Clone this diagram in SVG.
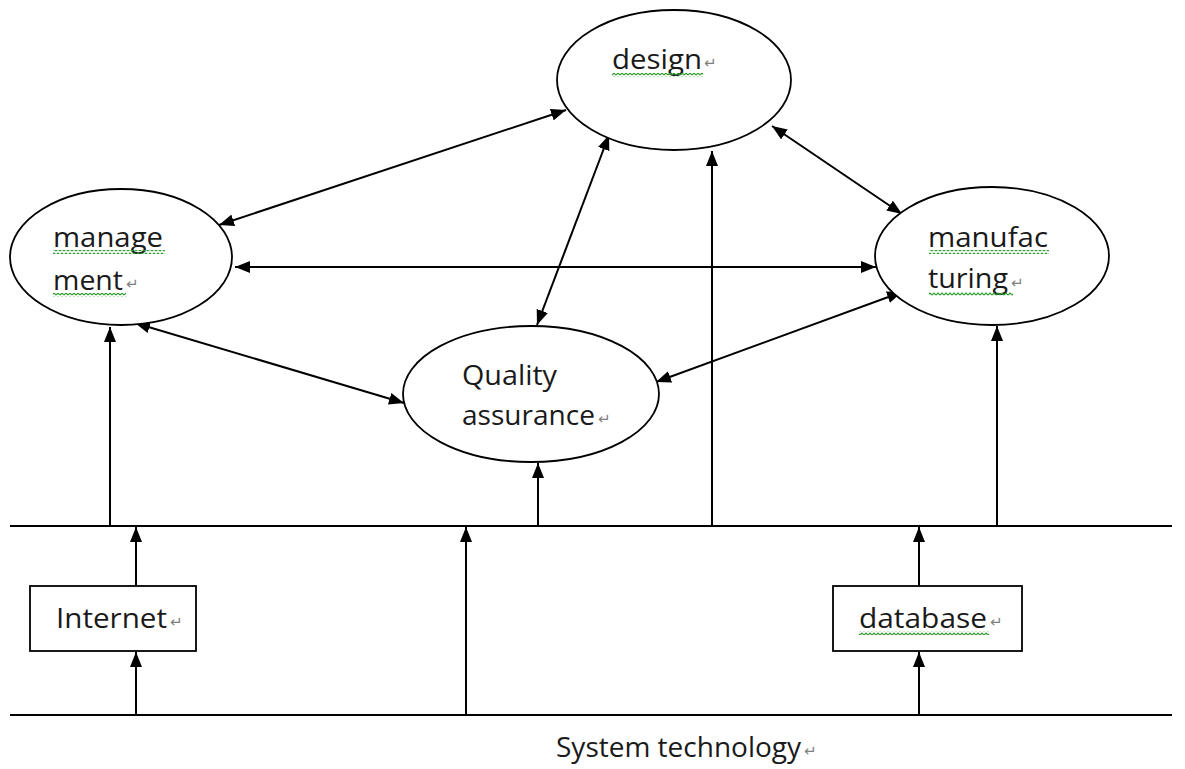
<svg xmlns="http://www.w3.org/2000/svg" width="1185" height="769" viewBox="0 0 1185 769">
  <style>
    .shape { fill: #ffffff; stroke: #000000; stroke-width: 1.8; }
    .rule { stroke: #000000; stroke-width: 1.8; fill: none; }
    .up { stroke: #000000; stroke-width: 2; fill: none; marker-end: url(#head); }
    .both { stroke: #000000; stroke-width: 2; fill: none; marker-start: url(#head); marker-end: url(#head); }
    .label { font-family: "Open Sans", "Liberation Sans", Arial, sans-serif; font-size: 28px; fill: #1a1a1a; }
    .mark { font-family: "DejaVu Sans", sans-serif; font-size: 15px; fill: #808080; }
    .squiggle { fill: url(#wave); }
  </style>
  <defs>
    <marker id="head" markerUnits="userSpaceOnUse" markerWidth="16" markerHeight="12" refX="15" refY="6" orient="auto-start-reverse">
      <path d="M0,0 L15,6 L0,12 z" fill="#000000"/>
    </marker>
    <pattern id="wave" patternUnits="userSpaceOnUse" width="4" height="4">
      <polyline points="0,3 2,1 4,3" fill="none" stroke="#2e9a2e" stroke-width="1.2"/>
    </pattern>
  </defs>

  <!-- ground rules -->
  <g id="rules">
    <line class="rule" x1="10" y1="526" x2="1172" y2="526"/>
    <line class="rule" x1="10" y1="715" x2="1172" y2="715"/>
  </g>

  <!-- connectors -->
  <g id="connectors">
    <!-- links between the four functions -->
    <line class="both" x1="566" y1="110" x2="219" y2="225"/>
    <line class="both" x1="609" y1="135" x2="537" y2="325"/>
    <line class="both" x1="772" y1="126" x2="902" y2="214"/>
    <line class="both" x1="235" y1="267" x2="876" y2="267"/>
    <line class="both" x1="135" y1="323" x2="404" y2="403"/>
    <line class="both" x1="656" y1="382" x2="902" y2="292"/>
    <!-- from the upper rule to the functions -->
    <line class="up" x1="110" y1="526" x2="110" y2="327"/>
    <line class="up" x1="538" y1="526" x2="538" y2="463"/>
    <line class="up" x1="712" y1="526" x2="712" y2="151"/>
    <line class="up" x1="997" y1="526" x2="997" y2="326"/>
    <!-- support layer -->
    <line class="up" x1="136" y1="586" x2="136" y2="527"/>
    <line class="up" x1="136" y1="715" x2="136" y2="652"/>
    <line class="up" x1="466" y1="715" x2="466" y2="527"/>
    <line class="up" x1="919" y1="586" x2="919" y2="527"/>
    <line class="up" x1="919" y1="715" x2="919" y2="652"/>
  </g>

  <g id="design">
    <ellipse class="shape" cx="674" cy="80" rx="117" ry="70"/>
    <text class="label" x="612" y="69" textLength="90" lengthAdjust="spacingAndGlyphs">design</text>
    <text class="mark" x="704" y="68">↵</text>
    <rect class="squiggle" x="612" y="73" width="91" height="4"/>
  </g>

  <g id="management">
    <ellipse class="shape" cx="121" cy="257" rx="111" ry="68"/>
    <text class="label" x="53" y="247" textLength="110" lengthAdjust="spacingAndGlyphs">manage</text>
    <text class="label" x="53" y="290" textLength="70" lengthAdjust="spacingAndGlyphs">ment</text>
    <text class="mark" x="126" y="289">↵</text>
    <rect class="squiggle" x="53" y="250" width="112" height="4"/>
    <rect class="squiggle" x="53" y="293" width="73" height="4"/>
  </g>

  <g id="manufacturing">
    <ellipse class="shape" cx="992" cy="256" rx="117" ry="69"/>
    <text class="label" x="928" y="247" textLength="120" lengthAdjust="spacingAndGlyphs">manufac</text>
    <text class="label" x="928" y="288" textLength="80" lengthAdjust="spacingAndGlyphs">turing</text>
    <text class="mark" x="1011" y="288">↵</text>
    <rect class="squiggle" x="929" y="250" width="120" height="4"/>
    <rect class="squiggle" x="929" y="292" width="84" height="4"/>
  </g>

  <g id="quality">
    <ellipse class="shape" cx="531" cy="394" rx="128" ry="68"/>
    <text class="label" x="462" y="385" textLength="95" lengthAdjust="spacingAndGlyphs">Quality</text>
    <text class="label" x="462" y="425" textLength="133" lengthAdjust="spacingAndGlyphs">assurance</text>
    <text class="mark" x="598" y="424">↵</text>
  </g>

  <g id="internet">
    <rect class="shape" x="30" y="586" width="166" height="65"/>
    <text class="label" x="56" y="628" textLength="111" lengthAdjust="spacingAndGlyphs">Internet</text>
    <text class="mark" x="170" y="627">↵</text>
  </g>

  <g id="database">
    <rect class="shape" x="833" y="586" width="189" height="65"/>
    <text class="label" x="859" y="628" textLength="128" lengthAdjust="spacingAndGlyphs">database</text>
    <text class="mark" x="990" y="627">↵</text>
    <rect class="squiggle" x="859" y="631" width="130" height="4"/>
  </g>

  <g id="system-technology">
    <text class="label" x="556" y="757" font-size="25.5">System technology<tspan class="mark" dx="3" dy="-1">↵</tspan></text>
  </g>
</svg>
